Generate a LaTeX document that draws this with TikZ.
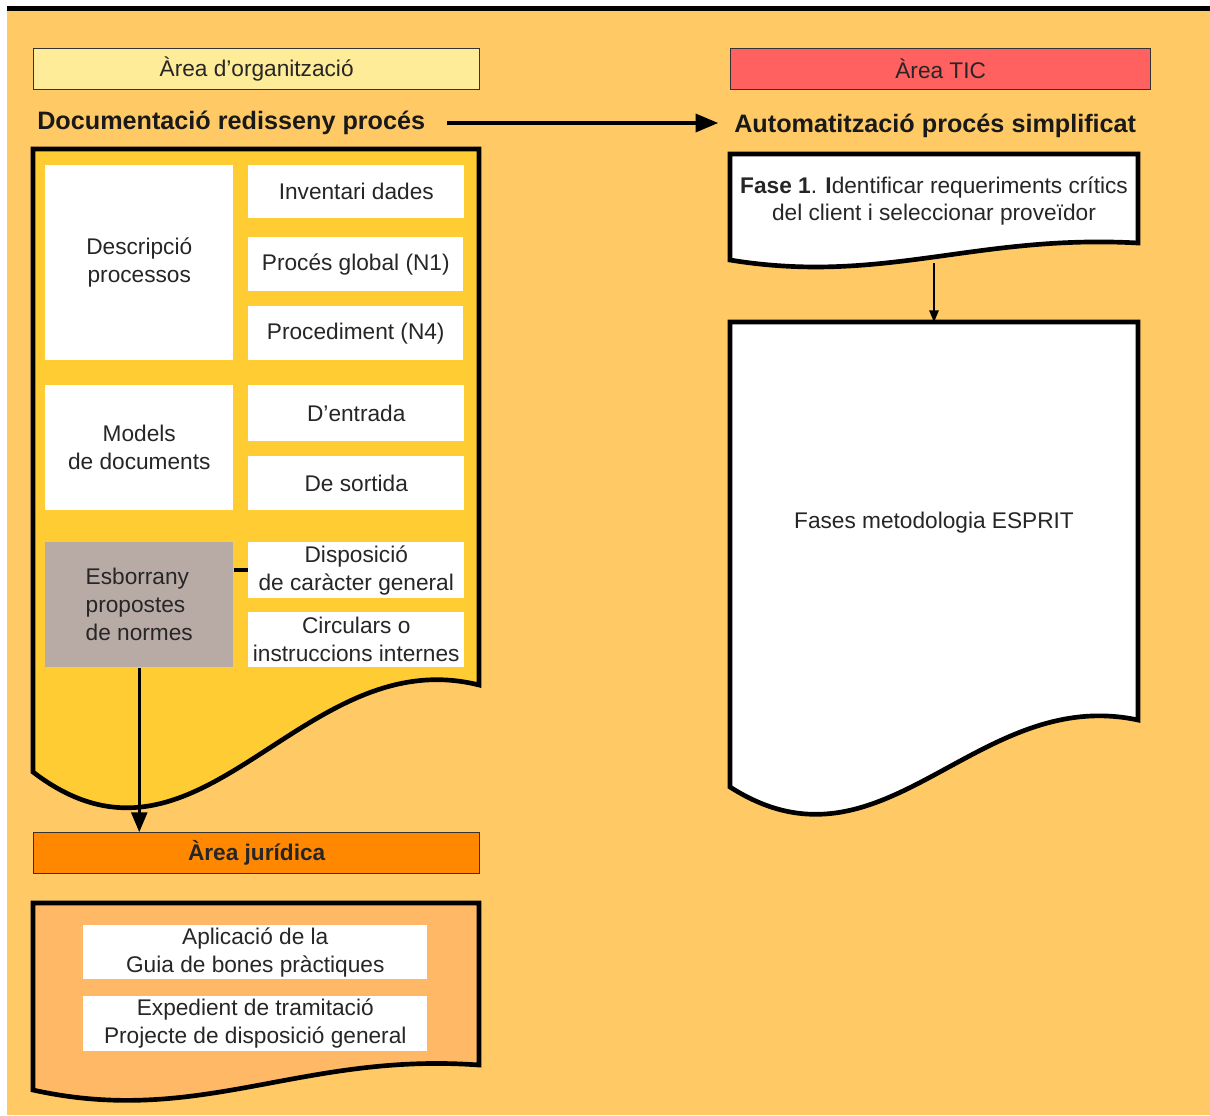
\documentclass[tikz,border=0pt]{standalone}
\usepackage{fontspec}
\setmainfont{Liberation Sans}
\usepackage{tikz}
\usetikzlibrary{arrows}
\definecolor{fons}{RGB}{255,202,102}
\definecolor{ormat}{RGB}{255,204,51}
\definecolor{grocclar}{RGB}{255,236,153}
\definecolor{vermell}{RGB}{255,96,96}
\definecolor{taronja}{RGB}{255,136,0}
\definecolor{taronjaclar}{RGB}{255,184,102}
\definecolor{gris}{RGB}{184,170,165}
\definecolor{textgris}{RGB}{38,38,38}

\begin{document}
\begin{tikzpicture}[x=0.75pt,y=-0.75pt,
	mida/.style 2 args={minimum width=#1*0.75pt, minimum height=#2*0.75pt},
	caixa/.style={anchor=north west, inner sep=0pt, fill=white, align=center, text=textgris, font=\fontsize{17}{21}\selectfont},
	area/.style={caixa, draw=black!80, line width=1pt},
	titol/.style={anchor=west, inner sep=0pt, text=black!90, font=\bfseries\fontsize{18.9}{22}\selectfont},
	doc/.style={draw=black, line width=3.5pt, line join=miter},
	gruix/.style={line width=3pt, -triangle 45},
	fina/.style={line width=1pt, -triangle 45}]
		\useasboundingbox (0,0) rectangle (1210,1115);
		\fill[fons] (7,11) rectangle (1210,1115);
		\fill[black] (7,6) rectangle (1210,11);

		\node[area, fill=grocclar, mida={446}{41}] (aorg) at (33,48) {Àrea d’organització};
		\node[area, fill=vermell, mida={420}{41}] (atic) at (730,48) {Àrea TIC};
		\node[area, fill=taronja, mida={446}{41}, font=\bfseries\fontsize{17}{21}\selectfont] (ajur) at (33,832) {Àrea jurídica};

		\node[titol] (tdoc) at (37,123) {Documentació redisseny procés};
		\node[titol] (taut) at (734,126) {Automatització procés simplificat};

		\draw[doc, fill=ormat] (33,149) -- (479,149) -- (479,685) .. controls (300,640) and (200,900) .. (33,772) -- cycle;
		\draw[doc, fill=taronjaclar] (33,903) -- (479,903) -- (479,1065) .. controls (300,1052) and (200,1127) .. (33,1090) -- cycle;
		\draw[doc, fill=white] (730,154) -- (1138,154) -- (1138,243) .. controls (975,234) and (883,285) .. (730,260) -- cycle;
		\draw[doc, fill=white] (730,322) -- (1138,322) -- (1138,720) .. controls (975,685) and (883,885) .. (730,787) -- cycle;

		\node[text=textgris, font=\fontsize{17}{20}\selectfont, align=center] (fase) at (934,201) {\textbf{Fase 1}. \textbf{I}dentificar requeriments crítics\\del client i seleccionar proveïdor};
		\node[text=textgris, font=\fontsize{17}{21}\selectfont] (esprit) at (934,523) {Fases metodologia ESPRIT};
		\coordinate (fase-s) at (934,263);
		\coordinate (esprit-n) at (934,322);

		\node[caixa, mida={188}{195}] (desc) at (45,165) {Descripció\\processos};
		\node[caixa, mida={216}{53}] (inv) at (248,165) {Inventari dades};
		\node[caixa, mida={215}{54}] (glob) at (248,237) {Procés global (N1)};
		\node[caixa, mida={215}{54}] (proc) at (248,306) {Procediment (N4)};
		\node[caixa, mida={188}{125}] (mod) at (45,385) {Models\\de documents};
		\node[caixa, mida={216}{56}] (dent) at (248,385) {D’entrada};
		\node[caixa, mida={216}{54}] (dsor) at (248,456) {De sortida};
		\node[caixa, fill=gris, mida={188}{125}, align=left] (esb) at (45,542) {Esborrany\\propostes\\de normes};
		\node[caixa, mida={216}{56}] (disp) at (248,542) {Disposició\\de caràcter general};
		\node[caixa, mida={216}{55}] (circ) at (248,612) {Circulars o\\instruccions internes};
		\node[caixa, mida={344}{54}] (apl) at (83,925) {Aplicació de la\\Guia de bones pràctiques};
		\node[caixa, mida={344}{55}] (exp) at (83,996) {Expedient de tramitació\\Projecte de disposició general};

		\draw[gruix] ([xshift=16.5pt]tdoc.east) -- ([xshift=-12pt]tdoc.east -| taut.west);
		\draw[fina] (fase-s) -- (esprit-n);
		\draw[gruix, line width=2.5pt] (esb.south) -- (esb.south |- ajur.north);
		\draw[line width=3pt] (esb.east |- disp.west) -- (disp.west);
\end{tikzpicture}
\end{document}
